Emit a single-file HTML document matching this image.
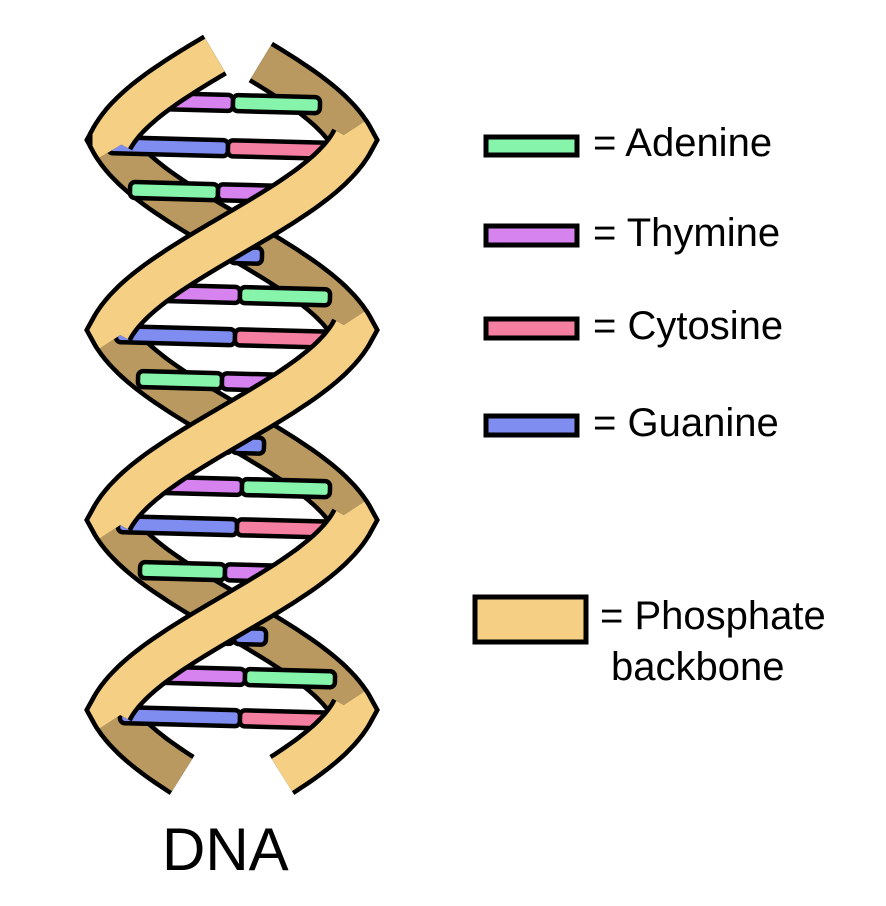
<!DOCTYPE html>
<html><head><meta charset="utf-8"><style>
html,body{margin:0;padding:0;background:#fff;}
body{width:886px;height:906px;overflow:hidden;position:relative;font-family:"Liberation Sans",Arial,sans-serif;}
.t{position:absolute;font-size:40px;color:#000;white-space:nowrap;}
</style></head><body>
<svg id="s" width="886" height="906" viewBox="0 0 886 906" xmlns="http://www.w3.org/2000/svg" style="position:absolute;left:0;top:0">
<g id="back"></g><g id="bars"></g><g id="front"></g>
<g stroke="#000" stroke-width="5">
<rect x="486" y="137" width="91" height="18" fill="#86F5AB"/>
<rect x="486" y="226" width="91" height="19" fill="#D683F0"/>
<rect x="486" y="319" width="91" height="19" fill="#F47FA0"/>
<rect x="486" y="416" width="91" height="19" fill="#7F8CF0"/>
<rect x="475" y="597" width="111" height="45" fill="#F4CF84"/>
</g>
</svg>
<div class="t" style="left:593px;top:121px">= Adenine</div>
<div class="t" style="left:593px;top:211px">= Thymine</div>
<div class="t" style="left:593px;top:304px">= Cytosine</div>
<div class="t" style="left:593px;top:401px">= Guanine</div>
<div class="t" style="left:600px;top:594px">= Phosphate</div>
<div class="t" style="left:611px;top:645px">backbone</div>
<div class="t" style="left:162px;top:815px;font-size:60px">DNA</div>
<script>
var NS="http://www.w3.org/2000/svg",cx=232,R=121;
function path(sign,y0,y1){var s='';for(var y=y0;;y+=2){if(y>y1)y=y1;var th=2*Math.PI*(y-140)/380,c=Math.cos(th);c=Math.max(-1,Math.min(1,c));var f=.6*c+.4*(2/Math.PI)*Math.asin(c);var x=cx+sign*R*f;s+=(y==y0?'M':'L')+x.toFixed(1)+','+y;if(y>=y1)break;}return s;}
function add(g,d,col){var a=document.createElementNS(NS,'path');a.setAttribute('d',d);a.setAttribute('fill','none');a.setAttribute('stroke','#000');a.setAttribute('stroke-width','47');g.appendChild(a);var b=document.createElementNS(NS,'path');b.setAttribute('d',d);b.setAttribute('fill','none');b.setAttribute('stroke',col);b.setAttribute('stroke-width','38');g.appendChild(b);}
var back=document.getElementById('back'),front=document.getElementById('front'),bars=document.getElementById('bars');
var D='#B9995F',L='#F4CF84';
[[1,62,146],[1,326,526],[1,706,775],[-1,136,336],[-1,516,716]].forEach(function(s){add(back,path(s[0],s[1],s[2]),D);});
[[1,132,338],[1,512,718],[-1,55,148],[-1,322,528],[-1,702,775]].forEach(function(s){add(front,path(s[0],s[1],s[2]),L);});
var G='#86F5AB',P='#D683F0',B='#7F8CF0',K='#F47FA0';
function bar(x0,xm,x1,y,c1,c2){[[x0,xm,c1],[xm,x1,c2]].forEach(function(p){var r=document.createElementNS(NS,'rect');r.setAttribute('x',p[0]);r.setAttribute('y',y-8);r.setAttribute('width',p[1]-p[0]);r.setAttribute('height',16);r.setAttribute('rx',5);r.setAttribute('fill',p[2]);r.setAttribute('stroke','#000');r.setAttribute('stroke-width','4.5');r.setAttribute('transform','rotate(1.5 '+(x0+x1)/2+' '+y+')');bars.appendChild(r);});}
bar(145,233,320,103,P,G);bar(108,228,332,148,B,K);bar(130,218,290,192,G,P);
bar(200,230,262,255,B,B);
bar(150,240,330,295,P,G);bar(116,235,338,337,B,K);bar(138,222,290,381,G,P);
bar(205,232,264,445,B,B);
bar(155,242,330,487,P,G);bar(118,237,340,527,B,K);bar(140,225,290,572,G,P);
bar(205,234,266,636,B,B);
bar(155,245,335,677,P,G);bar(120,240,340,718,B,K);
</script>
</body></html>
